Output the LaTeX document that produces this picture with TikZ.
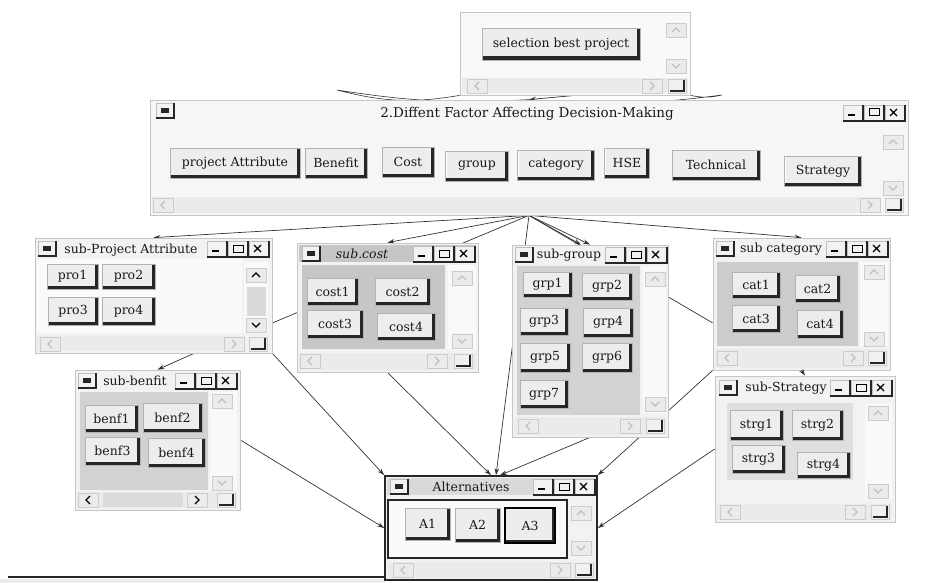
\documentclass[tikz,border=0pt]{standalone}
\usepackage{fontspec}
\setmainfont{DejaVu Serif}
\usetikzlibrary{arrows.meta,backgrounds,calc}

\begin{document}
\begin{tikzpicture}[x=1pt, y=-1pt,
	every node/.style={font=\fontsize{12.5}{14}\selectfont},
	sz/.style 2 args={minimum width=#1pt, minimum height=#2pt},
	win/.style={draw=gray!45, fill=gray!10, line width=0.8pt, inner sep=0pt},
	ttl/.style={inner sep=0pt, text=black!90},
	btn/.style={draw=gray!60, fill=gray!14, inner sep=0pt, text=black!90, path picture={
			\draw[white, line width=2.5pt] (path picture bounding box.south west) -- (path picture bounding box.north west) -- (path picture bounding box.north east);
			\draw[black!85, line width=7pt] (path picture bounding box.south west) -- (path picture bounding box.south east) -- (path picture bounding box.north east);}},
	conn/.style={black!80, line width=0.7pt, -{Stealth[length=7pt, width=4.5pt]}},
	link/.style={black!80, line width=0.7pt},
	pics/upbox/.style={code={\draw[gray!40, fill=gray!16] (-10,-7) rectangle (10,7); \draw[#1, line width=1.1pt] (-4,2) -- (0,-2) -- (4,2);}},
	pics/upbox/.default=gray!50,
	pics/downbox/.style={code={\draw[gray!40, fill=gray!16] (-10,-7) rectangle (10,7); \draw[#1, line width=1.1pt] (-4,-2) -- (0,2) -- (4,-2);}},
	pics/downbox/.default=gray!50,
	pics/leftbox/.style={code={\draw[gray!40, fill=gray!16] (-10,-7) rectangle (10,7); \draw[#1, line width=1.1pt] (2,-4) -- (-2,0) -- (2,4);}},
	pics/leftbox/.default=gray!50,
	pics/rightbox/.style={code={\draw[gray!40, fill=gray!16] (-10,-7) rectangle (10,7); \draw[#1, line width=1.1pt] (-2,-4) -- (2,0) -- (-2,4);}},
	pics/rightbox/.default=gray!50,
	pics/corner/.style={code={\draw[gray!40, fill=gray!12] (-9,-7) rectangle (9,7); \draw[black!85, line width=1.2pt] (-7,5) -- (7,5) -- (7,-6);}},
	pics/sysbox/.style={code={\draw[gray!50, fill=gray!10] (0,0) rectangle (18,15); \fill[black!85] (5,5) rectangle (13,10); \draw[black!85, line width=1.2pt] (18,0) -- (18,15) -- (0,15);}},
	pics/ctrls/.style={code={
			\foreach \i in {0,1,2} {
				\draw[gray!50, fill=gray!10] (21*\i,0) rectangle ++(20,16);
				\draw[black!85, line width=1.3pt] (21*\i+20,0) -- ++(0,16) -- ++(-20,0);
			}
			\draw[black, line width=1.8pt] (5,10) -- (12,10);
			\draw[black, line width=1pt] (26,4) rectangle (36,11);
			\draw[black, line width=1.2pt] (47,4) -- (54,11) (47,11) -- (54,4);}}]
	\useasboundingbox (0,0) rectangle (931,583);

	% top window
	\node[win, sz={230}{83}, fill=gray!5] (selwin) at (575,53.5) {};
	\node[btn, sz={158}{32}] (selbtn) at (561,44) {selection best project};
	\pic at (676,30) {upbox};
	\pic at (676,66) {downbox};
	\fill[gray!16] (462,78) rectangle (688,93);
	\pic at (477,86) {leftbox};
	\pic at (652,86) {rightbox};
	\pic at (677,86) {corner};

	% factors window
	\node[win, sz={758}{115}, fill=gray!7] (factwin) at (529,157.5) {};
	\pic at (156,103) {sysbox};
	\node[ttl, font=\fontsize{13.5}{15}\selectfont] (factttl) at (527,114) {2.Diffent Factor Affecting Decision-Making};
	\pic at (843,105) {ctrls};
	\node[btn, sz={130}{30}] (pattr) at (235,163) {project Attribute};
	\node[btn, sz={62}{30}] (pben) at (336,163) {Benefit};
	\node[btn, sz={52}{30}] (pcost) at (408,162) {Cost};
	\node[btn, sz={63}{30}] (pgrp) at (477,166) {group};
	\node[btn, sz={77}{30}] (pcat) at (556,165) {category};
	\node[btn, sz={45}{30}] (phse) at (627,163) {HSE};
	\node[btn, sz={88}{30}] (ptech) at (716,165) {Technical};
	\node[btn, sz={77}{30}] (pstr) at (823,171) {Strategy};
	\pic at (893,142) {upbox};
	\pic at (893,188) {downbox};
	\fill[gray!16] (152,197) rectangle (880,213);
	\pic at (163,205) {leftbox};
	\pic at (870,205) {rightbox};
	\pic at (894,205) {corner};

	% sub-Project Attribute
	\node[win, sz={237}{115}] (projwin) at (153.5,295.5) {};
	\fill[gray!4] (37,259) rectangle (242,333);
	\pic at (38,241) {sysbox};
	\node[ttl] (projttl) at (131,250) {sub-Project Attribute};
	\pic at (207,241) {ctrls};
	\node[btn, sz={51}{25}] (pro1) at (72.5,276.5) {pro1};
	\node[btn, sz={53}{25}] (pro2) at (128.5,276.5) {pro2};
	\node[btn, sz={50}{28}] (pro3) at (73,311) {pro3};
	\node[btn, sz={53}{28}] (pro4) at (128.5,311) {pro4};
	\fill[gray!5] (244,262) rectangle (268,333);
	\pic at (256,275) {upbox=black};
	\fill[gray!30] (247,287) rectangle (266,316);
	\pic at (256,325) {downbox=black};
	\fill[gray!16] (37,336) rectangle (245,351);
	\pic at (50,344) {leftbox};
	\pic at (234,344) {rightbox};
	\pic at (258,344) {corner};

	% sub.cost
	\node[win, sz={181}{129}] (costwin) at (387.5,307.5) {};
	\fill[gray!45] (299,245) rectangle (476,262);
	\pic at (302,246) {sysbox};
	\node[ttl] (costttl) at (362,254) {\itshape sub.cost};
	\pic at (413,246) {ctrls};
	\fill[gray!45] (302,265) rectangle (445,349);
	\node[btn, sz={51}{27}] (cost1) at (332.5,291.5) {cost1};
	\node[btn, sz={55}{27}] (cost2) at (402.5,291.5) {cost2};
	\node[btn, sz={56}{28}] (cost3) at (335,324) {cost3};
	\node[btn, sz={58}{27}] (cost4) at (406,326.5) {cost4};
	\fill[gray!5] (448,265) rectangle (476,350);
	\pic at (462,278) {upbox};
	\pic at (462,341) {downbox};
	\fill[gray!16] (299,353) rectangle (476,370);
	\pic at (310,361) {leftbox};
	\pic at (437,361) {rightbox};
	\pic at (463,361) {corner};

	% sub-group
	\node[win, sz={156}{192}] (grpwin) at (590,341) {};
	\pic at (515,247) {sysbox};
	\node[ttl] (grpttl) at (569,255) {sub-group};
	\pic at (605,247) {ctrls};
	\fill[gray!35] (517,266) rectangle (640,415);
	\node[btn, sz={49}{25}] (grp1) at (547.5,284.5) {grp1};
	\node[btn, sz={50}{27}] (grp2) at (607,286.5) {grp2};
	\node[btn, sz={48}{27}] (grp3) at (544,321.5) {grp3};
	\node[btn, sz={50}{29}] (grp4) at (608,322.5) {grp4};
	\node[btn, sz={50}{29}] (grp5) at (545,357.5) {grp5};
	\node[btn, sz={50}{29}] (grp6) at (607,357.5) {grp6};
	\node[btn, sz={48}{28}] (grp7) at (544,394) {grp7};
	\fill[gray!5] (643,266) rectangle (666,413);
	\pic at (655,279) {upbox};
	\pic at (655,404) {downbox};
	\fill[gray!16] (514,417) rectangle (666,435);
	\pic at (528,426) {leftbox};
	\pic at (630,426) {rightbox};
	\pic at (655,426) {corner};

	% sub category
	\node[win, sz={177}{132}] (catwin) at (801.5,304) {};
	\pic at (716,241) {sysbox};
	\node[ttl] (catttl) at (781,249) {sub category};
	\pic at (826,241) {ctrls};
	\fill[gray!40] (717,262) rectangle (858,346);
	\node[btn, sz={48}{26}] (cat1) at (756,285) {cat1};
	\node[btn, sz={45}{27}] (cat2) at (817.5,288.5) {cat2};
	\node[btn, sz={48}{27}] (cat3) at (756,318.5) {cat3};
	\node[btn, sz={46}{28}] (cat4) at (820,324) {cat4};
	\fill[gray!5] (860,262) rectangle (888,346);
	\pic at (874,272) {upbox};
	\pic at (874,339) {downbox};
	\fill[gray!16] (715,349) rectangle (888,368);
	\pic at (727,358) {leftbox};
	\pic at (853,358) {rightbox};
	\pic at (877,358) {corner};

	% sub-benfit
	\node[win, sz={165}{140}] (benwin) at (157.5,440) {};
	\pic at (78,373) {sysbox};
	\node[ttl] (benttl) at (135,381) {sub-benfit};
	\pic at (175,373) {ctrls};
	\fill[gray!35] (80,392) rectangle (208,490);
	\node[btn, sz={53}{27}] (benf1) at (111.5,418.5) {benf1};
	\node[btn, sz={59}{29}] (benf2) at (172.5,417.5) {benf2};
	\node[btn, sz={55}{28}] (benf3) at (112.5,451) {benf3};
	\node[btn, sz={57}{29}] (benf4) at (176.5,452.5) {benf4};
	\fill[gray!5] (210,392) rectangle (237,490);
	\pic at (222,401) {upbox};
	\pic at (222,483) {downbox};
	\fill[gray!16] (77,492) rectangle (237,508);
	\pic at (88,500) {leftbox=black};
	\fill[gray!28] (103,493) rectangle (183,507);
	\pic at (197,500) {rightbox=black};
	\pic at (226,500) {corner};

	% sub-Strategy
	\node[win, sz={180}{146}] (strwin) at (805,449) {};
	\pic at (719,380) {sysbox};
	\node[ttl] (strttl) at (786,388) {sub-Strategy};
	\pic at (830,380) {ctrls};
	\fill[gray!25] (727,403) rectangle (853,480);
	\node[btn, sz={53}{30}] (strg1) at (756.5,425) {strg1};
	\node[btn, sz={51}{30}] (strg2) at (817.5,425) {strg2};
	\node[btn, sz={53}{28}] (strg3) at (758.5,459) {strg3};
	\node[btn, sz={53}{26}] (strg4) at (823.5,465) {strg4};
	\fill[gray!5] (865,403) rectangle (892,500);
	\pic at (878,413) {upbox};
	\pic at (878,491) {downbox};
	\fill[gray!16] (717,504) rectangle (892,520);
	\pic at (730,512) {leftbox};
	\pic at (855,512) {rightbox};
	\pic at (880,512) {corner};

	% Alternatives
	\node[win, sz={212}{104}, draw=black!85, line width=1.6pt] (altwin) at (491,528) {};
	\fill[gray!30] (387,478) rectangle (595,495);
	\pic at (390,479) {sysbox};
	\node[ttl] (altttl) at (471,487) {Alternatives};
	\pic at (533,479) {ctrls};
	\draw[black!85, line width=1.6pt, fill=gray!4] (388,500) rectangle (567,558);
	\node[btn, sz={45}{32}] (alt1) at (427.5,524) {A1};
	\node[btn, sz={45}{34}] (alt2) at (477.5,525) {A2};
	\node[btn, sz={50}{35}, draw=black, line width=2.5pt] (alt3) at (530,525.5) {A3};
	\pic at (581,513) {upbox};
	\pic at (581,548) {downbox};
	\fill[gray!16] (388,562) rectangle (595,578);
	\pic at (403,570) {leftbox};
	\pic at (560,570) {rightbox};
	\pic at (584,570) {corner};
	\draw[conn] (catwin.south) -- (strwin.north);

	% connectors, behind the windows
	\begin{scope}[on background layer]
		\coordinate (lensL) at (337,90);
		\coordinate (lensR) at (722,95);
		\coordinate (bl) at (8,577);
		\draw[link, line width=0.6pt] (selwin.south west) to[bend left=12] (lensL) to[bend right=6] (factwin.north) to[bend right=6] (lensR) to[bend left=12] (selwin.south east);
		\draw[conn] (selwin.south) -- (factwin.north);
		\draw[conn] (factwin.south) -- (projwin.north);
		\draw[conn] (factwin.south) -- (costwin.north);
		\draw[link] (factwin.south) -- (projwin.-13);
		\draw[conn] (factwin.south) -- ($(altwin.north)+(5,0)$);
		\draw[conn] (factwin.south) -- ($(grpwin.north)+(-9,0)$);
		\draw[conn] (factwin.south) -- (grpwin.north);
		\draw[conn] (factwin.south) -- (catwin.north);
		\draw[link] (factwin.south) -- (catwin.192);
		\draw[conn] (projwin.-55) -- (benwin.north);
		\draw[conn] (projwin.south east) -- (altwin.north west);
		\draw[conn] (costwin.south) -- (altwin.north);
		\draw[conn] (benwin.east) -- (altwin.west);
		\draw[conn] (grpwin.south) -- ($(altwin.north)+(9,0)$);
		\draw[conn] (catwin.south west) -- (altwin.north east);
		\draw[conn] (strwin.west) -- (altwin.east);
		\draw[black!85, line width=2pt] (bl) -- (bl -| altwin.west);
		\fill[gray!15] (0,579) rectangle (385,583);
	\end{scope}
\end{tikzpicture}
\end{document}
